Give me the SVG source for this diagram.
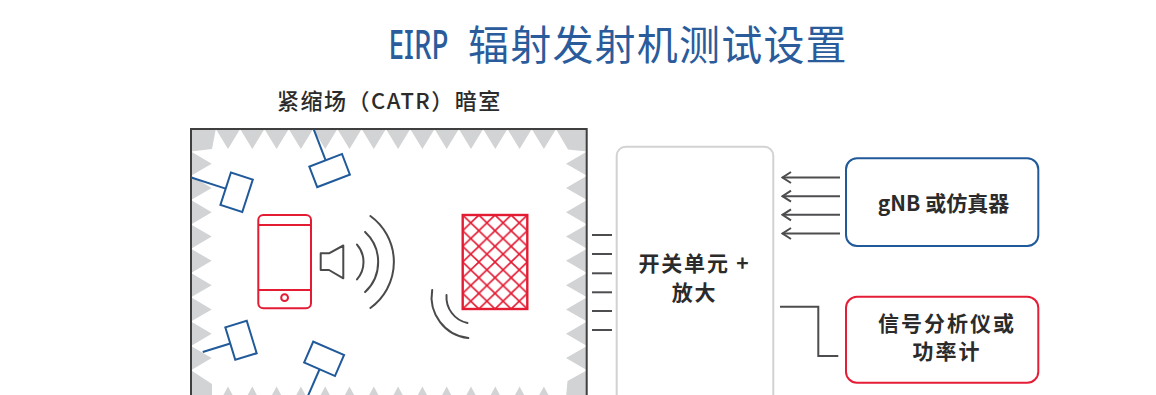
<svg xmlns="http://www.w3.org/2000/svg" width="1156" height="395" viewBox="0 0 1156 395">
  <style>
    .title { font-family: "Noto Sans", "Noto Sans CJK SC", sans-serif; fill: #2a5c9c; }
    .label { font-family: "Noto Sans CJK SC", "Noto Sans", sans-serif; fill: #2b2b2b; }
    .probe rect { fill: #ffffff; stroke: #215a9a; stroke-width: 2; }
    .probe line { stroke: #215a9a; stroke-width: 2; }
    .wave { fill: none; stroke: #4a4a4c; stroke-width: 2; stroke-linecap: round; }
    .dut { fill: none; stroke: #e31c34; stroke-width: 2; }
    .conn { fill: none; stroke: #4d4d4f; stroke-width: 2; }
  </style>
  <defs>
    <pattern id="mesh" patternUnits="userSpaceOnUse" x="462.7" y="215" width="16.15" height="15.67">
      <g stroke="#e31c34" stroke-width="1.6" fill="none">
        <path d="M-16.15,-15.67 L32.3,31.34 M0,-15.67 L32.3,15.67 M-16.15,0 L16.15,31.34"/>
        <path d="M32.3,-15.67 L-16.15,31.34 M16.15,-15.67 L-16.15,15.67 M32.3,0 L0,31.34"/>
      </g>
    </pattern>
    <marker id="chev" markerUnits="userSpaceOnUse" viewBox="-10 -7 12 14" markerWidth="12" markerHeight="14" refX="0" refY="0" orient="auto">
      <path d="M-8.5,-5.5 L0,0 L-8.5,5.5" fill="none" stroke="#4d4d4f" stroke-width="2"/>
    </marker>
  </defs>

  <rect width="1156" height="395" fill="#ffffff"/>

  <!-- headings -->
  <text class="title" x="388.5" y="59" font-size="40" font-weight="500" textLength="60" lengthAdjust="spacingAndGlyphs">EIRP</text>
  <text class="title" x="468" y="59.5" font-size="41" letter-spacing="1.2" style="font-family:'Noto Sans CJK SC', sans-serif">辐射发射机测试设置</text>
  <text class="label" x="277" y="109" font-size="22" letter-spacing="1.5" font-weight="500">紧缩场（CATR）暗室</text>

  <!-- anechoic chamber with absorber wedges -->
  <g id="chamber">
    <rect x="191" y="129" width="396" height="280" fill="#d1d3d4"/>
    <path fill="#ffffff" d="M215.85,129 L228,149 L240.15,129 L252.3,149 L264.45,129 L276.6,149 L288.75,129 L300.9,149 L313.05,129 L325.2,149 L337.35,129 L349.5,149 L361.65,129 L373.8,149 L385.95,129 L398.1,149 L410.25,129 L422.4,149 L434.55,129 L446.7,149 L458.85,129 L471,149 L483.15,129 L495.3,149 L507.45,129 L519.6,149 L531.75,129 L543.9,149 L556.05,129 L568,149.5
      L587,151.5 L566,163.65 L587,175.8 L566,187.95 L587,200.1 L566,212.25 L587,224.4 L566,236.55 L587,248.7 L566,260.85 L587,273 L566,285.15 L587,297.3 L566,309.45 L587,321.6 L566,333.75 L587,345.9 L566,358.05 L587,370.2
      L567.5,381 L565,409 L556.05,409 L543.9,386.5 L531.75,409 L519.6,386.5 L507.45,409 L495.3,386.5 L483.15,409 L471,386.5 L458.85,409 L446.7,386.5 L434.55,409 L422.4,386.5 L410.25,409 L398.1,386.5 L385.95,409 L373.8,386.5 L361.65,409 L349.5,386.5 L337.35,409 L325.2,386.5 L313.05,409 L300.9,386.5 L288.75,409 L276.6,386.5 L264.45,409 L252.3,386.5 L240.15,409 L228,386.5 L215.85,409 L212,409 L212,384
      L191,370.2 L211.7,358.05 L191,345.9 L211.7,333.75 L191,321.6 L211.7,309.45 L191,297.3 L211.7,285.15 L191,273 L211.7,260.85 L191,248.7 L211.7,236.55 L191,224.4 L211.7,212.25 L191,200.1 L211.7,187.95 L191,175.8 L211.7,163.65 L191,151.5 L212,149 Z"/>
    <rect x="191" y="129" width="395.7" height="280" fill="none" stroke="#3f3f40" stroke-width="2"/>
  </g>

  <!-- measurement probes -->
  <g id="probe-1" class="probe" transform="translate(236.6,192.2) rotate(18)">
    <line x1="-11.5" y1="0" x2="-47.7" y2="0"/>
    <rect x="-11.5" y="-17" width="23" height="34"/>
  </g>
  <g id="probe-2" class="probe" transform="translate(329.6,170.6) rotate(69)">
    <line x1="-11" y1="0" x2="-44" y2="0"/>
    <rect x="-11" y="-17.5" width="22" height="35"/>
  </g>
  <g id="probe-3" class="probe" transform="translate(241,340.3) rotate(-17)">
    <line x1="-11.2" y1="0" x2="-40" y2="0"/>
    <rect x="-11.2" y="-17" width="22.4" height="34"/>
  </g>
  <g id="probe-4" class="probe" transform="translate(324.1,358.8) rotate(-66.5)">
    <line x1="-11.4" y1="0" x2="-48" y2="0"/>
    <rect x="-11.4" y="-16.8" width="22.8" height="33.6"/>
  </g>

  <!-- device under test -->
  <g id="phone" class="dut">
    <rect x="258.3" y="215" width="52.7" height="93.3" rx="5"/>
    <line x1="258.3" y1="225" x2="311" y2="225"/>
    <line x1="258.3" y1="290" x2="311" y2="290"/>
    <circle cx="284.6" cy="297.7" r="3.4"/>
  </g>

  <!-- emission from the device -->
  <g id="speaker">
    <polygon points="320.7,253.3 329,253.3 343.3,245.5 343.3,278.3 329,270 320.7,270" fill="#ffffff" stroke="#4a4a4c" stroke-width="2" stroke-linejoin="round"/>
    <path class="wave" d="M357,244.6 A26.5,26.5 0 0 1 357,279.4"/>
    <path class="wave" d="M365.1,231.9 A41.2,41.2 0 0 1 365.1,292.1"/>
    <path class="wave" d="M370.4,216 A56.8,56.8 0 0 1 370.4,308"/>
  </g>

  <!-- reflector / feed panel -->
  <g id="reflector">
    <rect x="462.7" y="215" width="64.6" height="94" fill="url(#mesh)" stroke="#e31c34" stroke-width="2.4"/>
    <path class="wave" d="M432.2,290 A41.4,41.4 0 0 0 468.3,338.1"/>
    <path class="wave" d="M446.5,295.1 A26.6,26.6 0 0 0 467.5,323"/>
  </g>

  <!-- switching unit -->
  <g id="switch-unit">
    <rect x="616.7" y="146.7" width="156.6" height="270" rx="9" fill="#ffffff" stroke="#d2d2d2" stroke-width="2"/>
    <text class="label" x="694.5" y="271" font-size="21" letter-spacing="1.8" text-anchor="middle" font-weight="bold">开关单元 +</text>
    <text class="label" x="694.5" y="300" font-size="21" letter-spacing="1.8" text-anchor="middle" font-weight="bold">放大</text>
  </g>

  <g id="gnb">
    <rect x="846" y="158.3" width="192.3" height="87.7" rx="11" fill="#ffffff" stroke="#215a9a" stroke-width="2"/>
    <text class="label" x="943.5" y="210.5" font-size="21" text-anchor="middle" font-weight="bold">gNB 或仿真器</text>
  </g>

  <g id="analyzer">
    <rect x="846" y="296.7" width="192.3" height="86" rx="11" fill="#ffffff" stroke="#e51d37" stroke-width="2"/>
    <text class="label" x="947" y="331.3" font-size="21" letter-spacing="2" text-anchor="middle" font-weight="bold">信号分析仪或</text>
    <text class="label" x="947" y="358.5" font-size="21" letter-spacing="2" text-anchor="middle" font-weight="bold">功率计</text>
  </g>

  <!-- connectors -->
  <g id="connectors" class="conn">
    <line x1="592" y1="235" x2="612" y2="235"/>
    <line x1="592" y1="254" x2="612" y2="254"/>
    <line x1="592" y1="273.3" x2="612" y2="273.3"/>
    <line x1="592" y1="292.3" x2="612" y2="292.3"/>
    <line x1="592" y1="311" x2="612" y2="311"/>
    <line x1="592" y1="330" x2="612" y2="330"/>
    <line x1="840" y1="177.5" x2="782.5" y2="177.5" marker-end="url(#chev)"/>
    <line x1="840" y1="196.2" x2="782.5" y2="196.2" marker-end="url(#chev)"/>
    <line x1="840" y1="214.8" x2="782.5" y2="214.8" marker-end="url(#chev)"/>
    <line x1="840" y1="233.5" x2="782.5" y2="233.5" marker-end="url(#chev)"/>
    <polyline points="780,306.7 818.3,306.7 818.3,356 838.3,356"/>
  </g>
</svg>
